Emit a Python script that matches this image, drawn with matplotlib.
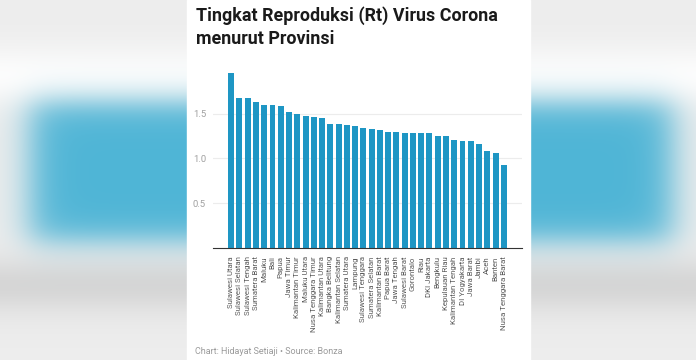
import matplotlib
matplotlib.use('Agg')
import matplotlib.pyplot as plt
import numpy as np
from matplotlib.patches import Rectangle

# Data
provinces = ['Sulawesi Utara', 'Sulawesi Selatan', 'Sulawesi Tengah', 'Sumatera Barat',
             'Maluku', 'Bali', 'Papua', 'Jawa Timur', 'Kalimantan Timur', 'Maluku Utara',
             'Nusa Tenggara Timur', 'Kalimantan Utara', 'Bangka Belitung', 'Kalimantan Selatan',
             'Sumatera Utara', 'Lampung', 'Sulawesi Tenggara', 'Sumatera Selatan',
             'Kalimantan Barat', 'Papua Barat', 'Jawa Tengah', 'Sulawesi Barat', 'Gorontalo',
             'Riau', 'DKI Jakarta', 'Bengkulu', 'Kepulauan Riau', 'Kalimantan Tengah',
             'DI Yogyakarta', 'Jawa Barat', 'Jambi', 'Aceh', 'Banten', 'Nusa Tenggara Barat']
rt_values = [1.96, 1.68, 1.67, 1.63, 1.60, 1.60, 1.59, 1.52, 1.50, 1.47,
             1.46, 1.45, 1.39, 1.39, 1.37, 1.36, 1.34, 1.33, 1.32, 1.30,
             1.30, 1.29, 1.285, 1.285, 1.285, 1.25, 1.25, 1.21, 1.20, 1.19,
             1.16, 1.08, 1.06, 0.93]
y_ticks = [0.5, 1.0, 1.5]

W, H = 696, 360
fig = plt.figure(figsize=(W / 100, H / 100), dpi=100)

# blurred photo-like background on both sides
bg = fig.add_axes([0, 0, 1, 1])
yy, xx = np.mgrid[0:H, 0:W].astype(float)
base = 0.93 + 0.06 * np.exp(-((yy - 75) / 30) ** 2) - 0.09 * np.exp(-((yy - 285) / 28) ** 2)
m_y = 0.5 * (np.tanh((yy - 102) / 18) - np.tanh((yy - 240) / 18))
m_x = 0.5 * (1 + np.tanh((xx - 30) / 22)) * 0.5 * (1 - np.tanh((xx - 672) / 22))
mask = (m_y * m_x)[..., None]
blue = np.array([0.31, 0.71, 0.84])
img = (1 - mask) * np.stack([base] * 3, axis=-1) + mask * blue
bg.imshow(np.clip(img, 0, 1), extent=[0, W, H, 0], aspect='auto')
bg.add_patch(Rectangle((187, 0), 343, H, color='white'))
bg.set_xlim(0, W)
bg.set_ylim(H, 0)
bg.axis('off')

# bar chart
ax = fig.add_axes([213 / W, 112 / H, 309 / W, 188 / H])
ax.set_facecolor('none')
x = np.arange(len(provinces))
ax.bar(x, rt_values, width=0.72, color='#1e96c4', zorder=2)
ax.set_xlim(-2.2, 35.2)
ax.set_ylim(0, 2.1)
ax.set_yticks(y_ticks)
ax.set_yticklabels([f'{v:.1f}' for v in y_ticks], fontsize=6.8, color='#a0a0a0',
                   family='Roboto')
ax.yaxis.grid(True, color='#ececec', linewidth=0.8, zorder=0)
ax.tick_params(axis='y', length=0, pad=5)
ax.set_xticks(x)
ax.set_xticklabels(provinces, rotation=90, fontsize=5.7, color='#5a5a5a', family='Roboto')
ax.tick_params(axis='x', length=0, pad=6)
for s in ['top', 'right', 'left']:
    ax.spines[s].set_visible(False)
ax.spines['bottom'].set_color('#333333')
ax.spines['bottom'].set_linewidth(0.8)

# titles
fig.text(196 / W, 1 - 21 / H, 'Tingkat Reproduksi (Rt) Virus Corona', fontsize=12.9,
         fontweight='bold', family='Roboto', color='#1a1a1a', va='baseline')
fig.text(196 / W, 1 - 44 / H, 'menurut Provinsi', fontsize=12.9,
         fontweight='bold', family='Roboto', color='#1a1a1a', va='baseline')
fig.text(195 / W, 1 - 354 / H, 'Chart: Hidayat Setiaji \u2022 Source: Bonza', fontsize=6.5,
         family='Roboto', color='#9a9a9a', va='baseline')

fig.savefig('out.png', dpi=100)
